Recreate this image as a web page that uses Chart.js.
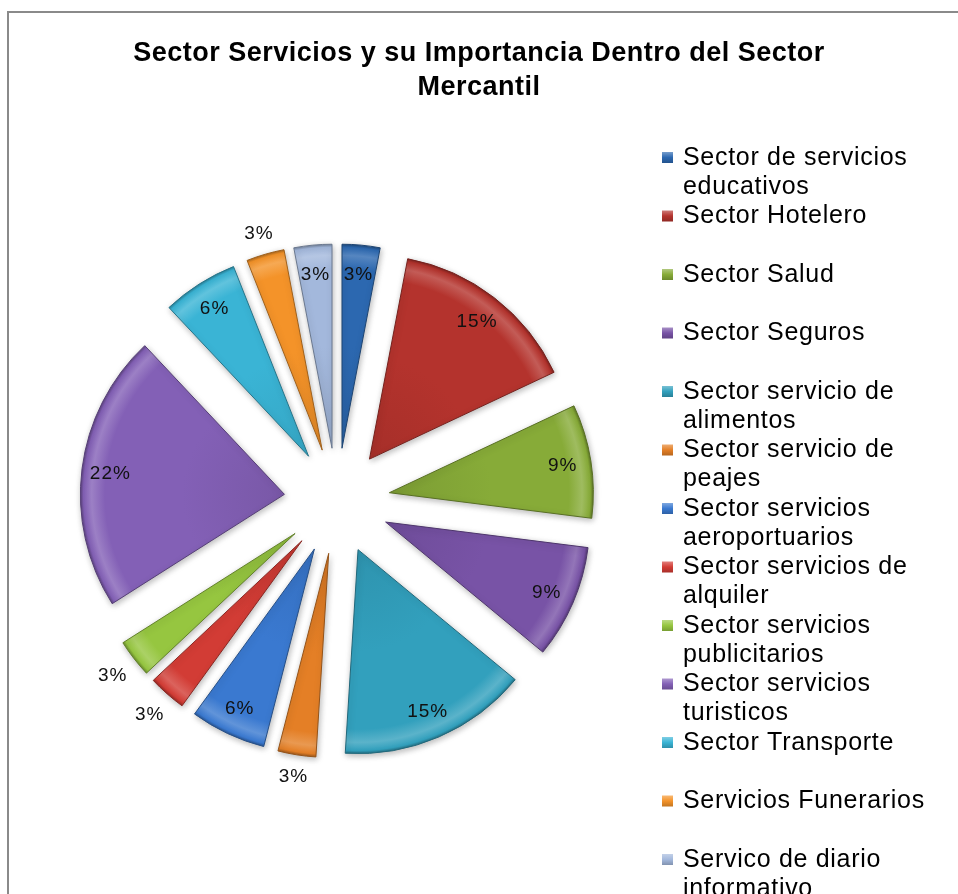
<!DOCTYPE html>
<html>
<head>
<meta charset="utf-8">
<title>Sector Servicios y su Importancia Dentro del Sector Mercantil</title>
<script src="https://cdn.jsdelivr.net/npm/chart.js@4.4.0/dist/chart.umd.min.js"></script>
<style>
  html, body { margin: 0; padding: 0; background: #fff; overflow: hidden; }
  .frame {
    position: absolute; left: 7px; top: 11px; width: 1100px; height: 1000px;
    border-left: 2px solid #8a8a8a; border-top: 2px solid #8a8a8a;
  }
  .wrap { position: absolute; left: 0; top: 0; width: 958px; height: 894px; }
</style>
</head>
<body>
<div class="frame"></div>
<div class="wrap"><canvas id="sectorChart" width="958" height="894"></canvas></div>
<script>
// Sectors, in clockwise order from 12 o'clock
const sectors = [
  "Sector de servicios educativos",
  "Sector Hotelero",
  "Sector Salud",
  "Sector Seguros",
  "Sector servicio de alimentos",
  "Sector servicio de peajes",
  "Sector servicios aeroportuarios",
  "Sector servicios de alquiler",
  "Sector servicios publicitarios",
  "Sector servicios turisticos",
  "Sector Transporte",
  "Servicios Funerarios",
  "Servico de diario informativo"
];
// share of each sector (%)
const shares = [3, 15, 9, 9, 15, 3, 6, 3, 3, 22, 6, 3, 3];

const sliceColors = [
  "#2C68B0", "#B4332D", "#87AB38", "#7853A6", "#32A0BD", "#E47F26", "#3A79D0",
  "#D23C35", "#96C640", "#8360B6", "#3AB4D5", "#F49329", "#A3B8DC"
];
// thin slices get their percentage outside the slice
const labelOutside = [false, false, false, false, false, true, false, true, true, false, false, true, false];

const RADIUS = 204;
const EXPLODE = 53;
const FONT = '"Liberation Sans", Arial, sans-serif';

// --- colour helpers
function mix(hex, target, amt) {
  const n = parseInt(hex.slice(1), 16);
  const c = [(n >> 16) & 255, (n >> 8) & 255, n & 255].map(v => Math.round(v + (target - v) * amt));
  return `rgb(${c[0]},${c[1]},${c[2]})`;
}
const lighten = (hex, a) => mix(hex, 255, a);
const darken = (hex, a) => mix(hex, 0, a);

// bevel-ish fill: flat body, bright rim, dark edge
function sliceFill(ctx) {
  const chart = ctx.chart;
  const base = sliceColors[ctx.dataIndex];
  const area = chart.chartArea;
  if (!area) return base;
  const cx = (area.left + area.right) / 2;
  const cy = (area.top + area.bottom) / 2;
  const g = chart.ctx.createRadialGradient(cx, cy, 0, cx, cy, RADIUS);
  g.addColorStop(0, darken(base, 0.08));
  g.addColorStop(0.5, base);
  g.addColorStop(0.88, base);
  g.addColorStop(0.945, lighten(base, 0.2));
  g.addColorStop(0.985, base);
  g.addColorStop(1, darken(base, 0.3));
  return g;
}

// draws each slice pulled out from the centre
const explodedSlices = {
  id: "explodedSlices",
  beforeDatasetDraw(chart, args) {
    const ctx = chart.ctx;
    args.meta.data.forEach(arc => {
      const mid = (arc.startAngle + arc.endAngle) / 2;
      ctx.save();
      ctx.translate(Math.cos(mid) * EXPLODE, Math.sin(mid) * EXPLODE);
      ctx.shadowColor = "rgba(0,0,0,0.28)";
      ctx.shadowBlur = 6;
      ctx.shadowOffsetX = 1;
      ctx.shadowOffsetY = 2;
      arc.draw(ctx);
      ctx.restore();
    });
    return false;
  }
};

// percentage labels
const percentLabels = {
  id: "percentLabels",
  afterDatasetsDraw(chart) {
    const ctx = chart.ctx;
    ctx.save();
    ctx.font = "19px " + FONT;
    ctx.letterSpacing = "1px";
    ctx.fillStyle = "#111";
    ctx.textAlign = "center";
    ctx.textBaseline = "middle";
    chart.getDatasetMeta(0).data.forEach((arc, i) => {
      const mid = (arc.startAngle + arc.endAngle) / 2;
      const cos = Math.cos(mid), sin = Math.sin(mid);
      const tipX = arc.x + cos * EXPLODE, tipY = arc.y + sin * EXPLODE;
      const text = shares[i] + "%";
      const w = ctx.measureText(text).width;
      const d = labelOutside[i]
        ? arc.outerRadius + 9 + Math.abs(cos) * w / 2 + Math.abs(sin) * 10
        : arc.outerRadius * 0.86;
      ctx.fillText(text, tipX + cos * d, tipY + sin * d + 1);
    });
    ctx.restore();
  }
};

function wrapWords(ctx, text, maxWidth) {
  const lines = [];
  let line = "";
  text.split(" ").forEach(word => {
    const test = line ? line + " " + word : word;
    if (line && ctx.measureText(test).width > maxWidth) {
      lines.push(line);
      line = word;
    } else {
      line = test;
    }
  });
  lines.push(line);
  return lines;
}

// legend on the right, as its own layout box
const sideLegend = {
  id: "sideLegend",
  beforeInit(chart) {
    const box = {
      position: "right",
      weight: 0,
      fullSize: false,
      options: {},
      width: 284,
      height: 0,
      isHorizontal() { return false; },
      getPadding() { return { top: 0, left: 0, right: 0, bottom: 0 }; },
      update(maxWidth, maxHeight) {
        this.width = 284;
        this.height = maxHeight;
      },
      draw() {
        const ctx = chart.ctx;
        ctx.save();
        ctx.font = "25px " + FONT;
        ctx.letterSpacing = "0.7px";
        ctx.textBaseline = "middle";
        sectors.forEach((name, i) => {
          const y = this.top + 43 + i * 58.5;
          const mx = this.left - 12, my = y - 4;
          const g = ctx.createLinearGradient(0, my, 0, my + 11);
          g.addColorStop(0, lighten(sliceColors[i], 0.35));
          g.addColorStop(0.5, sliceColors[i]);
          g.addColorStop(1, darken(sliceColors[i], 0.2));
          ctx.fillStyle = g;
          ctx.fillRect(mx, my, 11, 11);
          ctx.fillStyle = "#000";
          wrapWords(ctx, name, 254).forEach((line, j) => {
            ctx.fillText(line, this.left + 9, y + 2 + j * 28.8);
          });
        });
        ctx.restore();
      }
    };
    Chart.layouts.addBox(chart, box);
  }
};

// a little extra tracking for the title
const titleTracking = {
  id: "titleTracking",
  beforeDraw(chart) { chart.ctx.letterSpacing = "0.5px"; },
  afterDraw(chart) { chart.ctx.letterSpacing = "0px"; }
};

new Chart(document.getElementById("sectorChart"), {
  type: "pie",
  data: {
    labels: sectors,
    datasets: [{
      data: shares,
      backgroundColor: sliceFill,
      borderColor: sliceColors.map(c => darken(c, 0.35)),
      borderWidth: 1,
      radius: RADIUS
    }]
  },
  options: {
    responsive: false,
    animation: false,
    layout: { padding: { left: 0, right: 0, top: 0, bottom: 5 } },
    plugins: {
      legend: { display: false },
      tooltip: { enabled: false },
      title: {
        display: true,
        text: ["Sector Servicios y su Importancia Dentro del Sector", "Mercantil"],
        color: "#000",
        font: { family: FONT, size: 27, weight: "bold", lineHeight: 34 / 27 },
        padding: { top: 37, bottom: 8 }
      }
    }
  },
  plugins: [sideLegend, explodedSlices, percentLabels, titleTracking]
});
</script>
</body>
</html>
